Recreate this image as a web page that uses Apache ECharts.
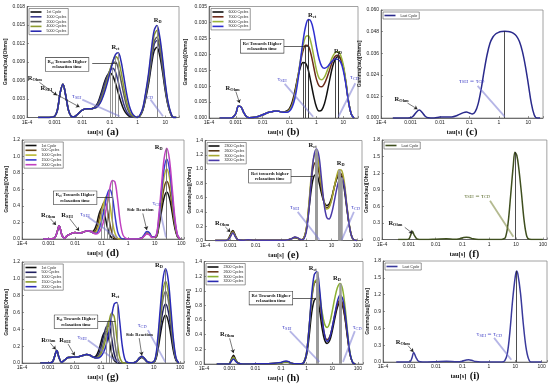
<!DOCTYPE html>
<html><head><meta charset="utf-8">
<script src="https://cdn.jsdelivr.net/npm/echarts/dist/echarts.min.js"></script>
<style>html,body{margin:0;padding:0;background:#fff}#c{width:550px;height:387px}</style>
</head><body><div id="c"></div>
<script>
// ---------------- DATA (tau given as log10 of seconds) ----------------
const xTickLabels = ['1E-4','0.001','0.01','0.1','1','10','100'];
const yName = 'Gamma(tau)[Ohms]';

// (a)
const legA = ['1st Cycle','1000 Cycles','2000 Cycles','4000 Cycles','5000 Cycles'];
const logTauA = [-3.6,-3.2,-3.0,-2.9,-2.8,-2.7,-2.6,-2.5,-2.4,-2.3,-2.2,-2.0,-1.8,-1.7,
  -1.6,-1.5,-1.4,-1.3,-1.2,-1.1,-1.0,-0.9,-0.8,-0.7,-0.6,-0.5,-0.4,-0.3,-0.2,-0.1,0.0,
  0.1,0.2,0.3,0.4,0.5,0.6,0.7,0.8,0.9,1.0,1.1,1.2,1.3,1.4];
const headA = [0,0,0.0002,0.0012,0.0040,0.0054,0.0036,0.0012,0.0002,0.0001,0.0004,0.0012,0.0014,0.0014];
const gA1 = headA.concat([0.0015,0.0019,0.0028,0.0042,0.0057,0.0068,0.0072,0.0068,0.0056,0.0040,0.0025,0.0013,0.0006,0.0002,0.0001,0,0,
  0.0003,0.0013,0.0032,0.0055,0.0084,0.0108,0.0114,0.0101,0.0075,0.0044,0.0020,0.0006,0,0]);
const gA2 = headA.concat([0.0015,0.0018,0.0026,0.0038,0.0053,0.0066,0.0076,0.0080,0.0074,0.0058,0.0039,0.0022,0.0010,0.0004,0.0001,0,0,
  0.0004,0.0014,0.0035,0.0060,0.0092,0.0118,0.0125,0.0111,0.0082,0.0048,0.0021,0.0006,0,0]);
const gA3 = headA.concat([0.0015,0.0017,0.0023,0.0033,0.0047,0.0062,0.0077,0.0088,0.0090,0.0080,0.0060,0.0038,0.0019,0.0008,0.0003,0.0001,0,
  0.0004,0.0014,0.0037,0.0063,0.0096,0.0123,0.0130,0.0115,0.0085,0.0050,0.0022,0.0007,0,0]);
const gA4 = headA.concat([0.0015,0.0016,0.0021,0.0030,0.0043,0.0059,0.0076,0.0091,0.0099,0.0094,0.0075,0.0050,0.0027,0.0011,0.0004,0.0001,0,
  0.0004,0.0016,0.0040,0.0068,0.0104,0.0133,0.0141,0.0125,0.0092,0.0054,0.0024,0.0007,0,0]);
const gA5 = headA.concat([0.0015,0.0016,0.0020,0.0028,0.0040,0.0055,0.0072,0.0089,0.0102,0.0105,0.0092,0.0067,0.0040,0.0019,0.0007,0.0002,0,
  0.0005,0.0017,0.0042,0.0072,0.0110,0.0141,0.0149,0.0132,0.0098,0.0057,0.0026,0.0008,0,0]);

// (b)
const legB = ['6000 Cycles','7000 Cycles','8000 Cycles','9000 Cycles'];
const logTauB = [-3.6,-3.2,-3.1,-3.0,-2.9,-2.8,-2.7,-2.6,-2.5,-2.3,-2.0,-1.8,-1.6,-1.5,-1.4,-1.3,
  -1.2,-1.1,-1.0,-0.9,-0.8,-0.7,-0.6,-0.5,-0.4,-0.3,-0.2,-0.1,0.0,0.1,0.2,0.3,0.4,0.5,0.6,0.7,0.8,0.9,1.0,1.1,1.2,1.3,1.4];
const headB = [0,0,0.0003,0.0014,0.0038,0.0034,0.0016,0.0004,0.0001,0.0002,0.0010,0.0017,0.0021,0.0022,0.0021,0.0019];
const gB1 = headB.concat([0.0019,0.0022,0.0030,0.0050,0.0085,0.0125,0.0158,0.0174,0.0172,0.0150,0.0110,0.0068,0.0035,0.0022,0.0025,0.0045,0.0080,0.0122,0.0160,0.0184,0.0192,0.0186,0.0160,0.0110,0.0050,0.0012,0]);
const gB2 = headB.concat([0.0018,0.0020,0.0027,0.0045,0.0078,0.0125,0.0172,0.0210,0.0228,0.0226,0.0200,0.0160,0.0122,0.0101,0.0098,0.0108,0.0128,0.0153,0.0178,0.0194,0.0197,0.0188,0.0160,0.0110,0.0050,0.0012,0]);
const gB3 = headB.concat([0.0018,0.0019,0.0025,0.0040,0.0072,0.0122,0.0178,0.0225,0.0255,0.0258,0.0236,0.0195,0.0152,0.0125,0.0120,0.0128,0.0148,0.0170,0.0192,0.0205,0.0208,0.0198,0.0168,0.0115,0.0052,0.0012,0]);
const gB4 = headB.concat([0.0018,0.0018,0.0022,0.0035,0.0062,0.0110,0.0175,0.0240,0.0288,0.0309,0.0303,0.0272,0.0225,0.0185,0.0162,0.0156,0.0160,0.0170,0.0180,0.0185,0.0184,0.0176,0.0150,0.0105,0.0048,0.0012,0]);

// (c)
const legC = ['Last Cycle'];
const logTauC = [-3.6,-3.2,-3.0,-2.9,-2.8,-2.7,-2.6,-2.5,-2.4,-2.2,-2.0,-1.8,-1.6,-1.4,-1.2,-1.1,-1.0,-0.9,-0.8,-0.7,-0.6,-0.5,-0.4,-0.3,-0.2,-0.1,0.0,0.1,0.2,0.3,0.4,0.5,0.6,0.7,0.8,0.9,1.0,1.1,1.2,1.3,1.4];
const gC1 = [0,0,0.0001,0.0012,0.0032,0.0044,0.0030,0.0010,0.0001,0,0.0005,0.0006,0.0006,0.0015,0.0030,0.0033,0.0028,0.0022,0.0035,0.0080,
  0.0160,0.0260,0.0350,0.0415,0.0450,0.0468,0.0476,0.0480,0.0482,0.0481,0.0478,0.0470,0.0455,0.0425,0.0370,0.0290,0.0190,0.0085,0.0018,0,0];

// (d)
const legD = ['1st Cycle','500 Cycles','1000 Cycles','1500 Cycles','2000 Cycles'];
const logTauD = [-3.2,-3.0,-2.8,-2.7,-2.6,-2.5,-2.4,-2.3,-2.15,-2.0,-1.85,-1.7,-1.55,
  -1.4,-1.3,-1.2,-1.1,-1.0,-0.9,-0.8,-0.7,-0.6,-0.5,-0.4,-0.3,-0.2,-0.1,0.0,
  0.3,0.5,0.6,0.7,0.8,0.9, 1.05,1.15,1.25,1.35,1.45,1.55,1.65,1.75,1.85,1.95];
const headD = [0,0,0.005,0.06,0.16,0.05,0.01,0.04,0.065,0.078,0.07,0.082,0.10];
const gD1 = headD.concat([0.09,0.10,0.17,0.30,0.37,0.31,0.16,0.05,0.01,0,0,0,0,0,0, 0,0.01,0.04,0.07,0.06,0.02, 0.023,0.14,0.33,0.50,0.57,0.50,0.33,0.14,0.028,0]);
const gD2 = headD.concat([0.09,0.08,0.12,0.24,0.38,0.45,0.38,0.20,0.06,0.01,0,0,0,0,0, 0,0.01,0.045,0.08,0.07,0.025, 0.028,0.17,0.41,0.62,0.70,0.62,0.41,0.17,0.035,0]);
const gD3 = headD.concat([0.09,0.07,0.09,0.17,0.31,0.46,0.52,0.43,0.22,0.07,0.01,0,0,0,0, 0,0.01,0.04,0.075,0.065,0.022, 0.034,0.21,0.49,0.75,0.85,0.75,0.49,0.21,0.042,0]);
const gD4 = headD.concat([0.09,0.07,0.07,0.12,0.22,0.37,0.53,0.60,0.52,0.29,0.09,0.02,0,0,0, 0,0.012,0.05,0.09,0.075,0.025, 0.039,0.24,0.56,0.85,0.97,0.85,0.56,0.24,0.048,0]);
const gD5 = headD.concat([0.09,0.07,0.06,0.08,0.14,0.25,0.42,0.60,0.71,0.69,0.48,0.20,0.05,0.01,0, 0,0.008,0.035,0.06,0.05,0.018, 0.044,0.28,0.64,0.97,1.10,0.97,0.64,0.28,0.055,0]);

// (e)
const legE = ['2300 Cycles','2600 Cycles','3000 Cycles','3200 Cycles'];
const logTauE = [-3.6,-3.2,-3.1,-3.0,-2.9,-2.8,-2.7,-2.5,-2.3,-2.1,-1.5,-1.0,-0.7,-0.55,-0.45,-0.35,-0.2,-0.1,0.0,0.1,0.2,0.3,0.4,0.5,0.6,0.7,0.8,0.9,1.0,1.1,1.2,1.3,1.4,1.5,1.6,1.7,1.8,1.9,2.0];
const gE1 = [0,0,0.01,0.08,0.14,0.07,0.01,0.003,0.01,0.005,0.003,0.004,0.012,0.03,0.04,0.03,0.01,0.03,0.15,0.42,0.72,0.90,0.92,0.82,0.66,0.54,0.49,0.51,0.60,0.74,0.86,0.92,0.88,0.72,0.45,0.20,0.05,0.005,0];
const gE2 = [0,0,0.01,0.07,0.13,0.06,0.01,0.003,0.01,0.005,0.003,0.004,0.012,0.03,0.045,0.035,0.01,0.03,0.16,0.48,0.85,1.06,1.10,0.95,0.72,0.54,0.46,0.48,0.58,0.74,0.88,0.95,0.92,0.76,0.47,0.21,0.05,0.005,0];
const gE3 = [0,0,0.008,0.06,0.12,0.06,0.01,0.003,0.01,0.005,0.003,0.004,0.012,0.03,0.045,0.035,0.01,0.03,0.16,0.50,0.92,1.17,1.22,1.05,0.77,0.55,0.44,0.46,0.57,0.74,0.90,0.99,0.98,0.82,0.50,0.22,0.05,0.005,0];
const gE4 = [0,0,0.007,0.05,0.11,0.05,0.01,0.003,0.01,0.005,0.003,0.004,0.012,0.03,0.05,0.04,0.01,0.02,0.12,0.42,0.86,1.18,1.28,1.18,0.86,0.52,0.33,0.30,0.38,0.54,0.72,0.85,0.88,0.76,0.48,0.21,0.05,0.005,0];

// (f)
const legF = ['Last Cycle'];
const logTauF = [-3.4,-3.1,-3.0,-2.93,-2.87,-2.8,-2.7,-2.6,-2.4,-2.0,-1.6,-1.3,-1.1,-0.95,-0.85,-0.75,-0.6,-0.4,0.0,0.4,0.5,0.6,0.7,0.8,0.9,0.96,1.03,1.1,1.2,1.3,1.4,1.5,1.7,2.0];
const gF1 = [0,0,0.01,0.08,0.15,0.08,0.01,0,0,0.005,0.012,0.005,0.015,0.035,0.042,0.035,0.012,0,0,0,0.005,0.03,0.28,0.80,1.35,1.58,1.52,1.30,0.85,0.35,0.06,0.005,0,0];

// (g)
const legG = ['1st Cycle','500 Cycles','1000 Cycles','1500 Cycles','2000 Cycles'];
const logTauG = [-3.3,-3.0,-2.85,-2.77,-2.68,-2.6,-2.5,-2.4,-2.25,-2.0,-1.85,-1.7,-1.55,-1.4,
  -1.3,-1.2,-1.1,-1.0,-0.9,-0.8,-0.7,-0.6,-0.5,-0.4,-0.3,-0.2,-0.1,0.0,
  0.2,0.35,0.45,0.55,0.65,0.75,0.9, 1.05,1.15,1.25,1.35,1.45,1.55,1.65,1.75,1.85,1.95];
const headG = [0,0,0.01,0.07,0.15,0.07,0.01,0.03,0.065,0.07,0.075,0.09,0.10,0.09];
const gG1 = headG.concat([0.07,0.08,0.14,0.25,0.35,0.37,0.28,0.12,0.03,0.005,0,0,0,0, 0,0.02,0.05,0.065,0.045,0.015,0.002, 0.023,0.14,0.33,0.50,0.57,0.50,0.33,0.14,0.028,0]);
const gG2 = headG.concat([0.07,0.07,0.10,0.19,0.32,0.43,0.44,0.30,0.11,0.02,0,0,0,0, 0,0.02,0.055,0.07,0.05,0.015,0.002, 0.028,0.17,0.41,0.62,0.70,0.62,0.41,0.17,0.035,0]);
const gG3 = headG.concat([0.07,0.06,0.08,0.14,0.25,0.40,0.50,0.50,0.30,0.09,0.01,0,0,0, 0,0.02,0.06,0.075,0.05,0.015,0.002, 0.034,0.21,0.49,0.75,0.85,0.75,0.49,0.21,0.042,0]);
const gG4 = headG.concat([0.07,0.06,0.07,0.11,0.19,0.32,0.48,0.59,0.55,0.30,0.08,0.01,0,0, 0,0.02,0.06,0.08,0.055,0.017,0.002, 0.039,0.24,0.56,0.85,0.97,0.85,0.56,0.24,0.048,0]);
const gG5 = headG.concat([0.07,0.06,0.06,0.08,0.13,0.22,0.37,0.55,0.70,0.72,0.52,0.22,0.05,0.005, 0,0.02,0.06,0.08,0.055,0.017,0.002, 0.045,0.28,0.65,0.99,1.12,0.99,0.65,0.28,0.056,0]);

// (h)
const legH = ['2300 Cycles','2600 Cycles','3000 Cycles','3200 Cycles'];
const logTauH = [-3.5,-3.1,-3.0,-2.95,-2.85,-2.75,-2.65,-2.5,-2.0,-1.5,-1.0,-0.9,-0.8,-0.7,-0.6,-0.4,-0.2,-0.1,0.0,0.1,0.2,0.3,0.4,0.5,0.6,0.7,0.8,0.9,1.0,1.1,1.2,1.3,1.4,1.5,1.6,1.7,1.8,1.9];
const gH1 = [0,0,0.01,0.05,0.12,0.05,0.01,0,0.002,0.003,0.015,0.025,0.03,0.025,0.01,0.002,0.003,0.02,0.12,0.38,0.70,0.87,0.90,0.75,0.50,0.33,0.28,0.32,0.45,0.62,0.77,0.84,0.80,0.62,0.35,0.12,0.02,0];
const gH2 = [0,0,0.01,0.04,0.10,0.04,0.01,0,0.002,0.003,0.015,0.025,0.03,0.025,0.01,0.002,0.003,0.03,0.16,0.50,0.88,1.10,1.13,0.94,0.62,0.40,0.33,0.37,0.50,0.67,0.81,0.87,0.83,0.64,0.36,0.12,0.02,0];
const gH3 = [0,0,0.008,0.04,0.09,0.04,0.008,0,0.002,0.003,0.015,0.025,0.03,0.025,0.01,0.002,0.003,0.03,0.16,0.50,0.90,1.12,1.15,0.98,0.72,0.55,0.50,0.56,0.72,0.90,1.04,1.10,1.03,0.78,0.43,0.14,0.02,0];
const gH4 = [0,0,0.006,0.03,0.07,0.03,0.006,0,0.002,0.004,0.02,0.035,0.04,0.032,0.012,0.002,0.003,0.03,0.15,0.50,0.95,1.22,1.26,1.05,0.66,0.40,0.31,0.36,0.50,0.68,0.85,0.94,0.90,0.70,0.40,0.13,0.02,0];

// (i)
const legI = ['Last Cycle'];
const logTauI = [-3.5,-3.0,-2.95,-2.9,-2.84,-2.75,-2.65,-2.5,-2.0,-1.6,-1.2,-1.0,-0.85,-0.76,-0.65,-0.5,-0.3,0.5,0.6,0.7,0.8,0.9,1.0,1.05,1.1,1.2,1.3,1.4,1.5,1.6,2.0];
const gI1 = [0,0,0.02,0.08,0.17,0.08,0.01,0,0.005,0.012,0.005,0.015,0.035,0.04,0.03,0.008,0,0,0.02,0.15,0.55,1.10,1.52,1.62,1.56,1.22,0.70,0.28,0.06,0,0];

// ---------------- LAYOUT / STYLE ----------------
const SANS = "'Liberation Sans', Arial, sans-serif";
const SERIF = "'Liberation Serif','DejaVu Serif',serif";
const TAUC = '#4646c8';
const P = l => Math.pow(10, l);
const R = s => `{b|R}{s|${s}}`;
const T = s => `{tb|τ}{ts|${s}}`;
const TEQ = '{tb|τ}{ts|SEI}{tb| = τ}{ts|CD}';
const TEQO = '{ob|τ}{os|SEI}{ob| = τ}{os|CD}';
const BOX = '{c|R}{cs|ct}{c| Towards Higher}\n{c|relaxation time}';
const BOXE = '{c|Rct towards higher}\n{c|relaxation time}';
const SIDE = '{c|Side Reaction}';
const TLINE = {color:'rgba(120,120,210,0.55)', width:1.8};
const TLINEO = {color:'rgba(130,140,70,0.6)', width:1.8};

const panels = [
 {k:'a', box:[27,6.5,152,111], xmax:1.5, ymax:0.018, yint:0.003, dec:3, ygap:17,
  tau:logTauA, ys:[gA1,gA2,gA3,gA4,gA5], names:legA, colors:['#111111','#3b3b8c','#5a5a5a','#8c9a2e','#2a2ab0'],
  peaks:[{lo:-1.2,hi:-0.5,c:[0,1,2,3,4],color:'#8a8a8a',w:0.9},{lo:0.4,hi:1.0,c:[4],color:'#8a8a8a',w:1}],
  labels:[[-3.72,0.0063,R('Ohm')],[-3.3,0.0047,R('SEI')],[-2.55,0.0086,BOX,1],[-0.8,0.0114,R('ct')],[0.73,0.0157,R('D')],[-2.2,0.0035,T('SEI')],[0.4,0.0035,T('CD')]],
  arrows:[[[-3.55,0.0057],[-2.92,0.0036]],[[-3.12,0.0042],[-2.1,0.0017]]],
  plain:[[[-1.64,0.0088],[-0.75,0.0088]]],
  tlines:[[[-2.0,0.0029],[-0.65,0.0002]],[[0.47,0.0029],[0.92,0.0002]]]},
 {k:'b', box:[209,6.5,149,111.5], xmax:1.55, ymax:0.035, yint:0.005, dec:3, ygap:21,
  tau:logTauB, ys:[gB1,gB2,gB3,gB4], names:legB, colors:['#111111','#6b2a1a','#9ab33a','#2f2fd0'],
  peaks:[{lo:-0.6,hi:-0.1,c:[0,1,2,3],color:'#333',w:0.9},{lo:0.6,hi:1.0,c:[0,1,2,3],color:'#333',w:0.9}],
  labels:[[-3.12,0.0093,R('Ohm')],[-2.02,0.0225,BOX,1],[-0.16,0.0323,R('ct')],[0.8,0.0209,R('D')],[-1.28,0.0121,T('SEI')],[1.42,0.0128,T('CD')]],
  arrows:[[[-3.0,0.0083],[-2.86,0.0047]]],
  plain:[[[-1.36,0.0225],[-0.3,0.0225]]],
  tlines:[[[-1.18,0.0107],[-0.12,0.0004]],[[1.45,0.0109],[0.82,0.0004]]]},
 {k:'c', box:[381,10,162,108], xmax:1.5, ymax:0.060, yint:0.012, dec:3, ygap:14,
  tau:logTauC, ys:[gC1], names:legC, colors:['#2a2a8c'],
  peaks:[{lo:-0.5,hi:1,c:[0],color:'#222',w:0.8}],
  labels:[[-3.3,0.0103,R('Ohm')],[-0.92,0.0207,TEQ]],
  arrows:[[[-3.1,0.0083],[-2.76,0.0049]]], plain:[],
  tlines:[[[-0.72,0.0178],[0.2,0.0008]]]},
 {k:'d', box:[22,140,162,99], xmax:2.1, ymax:1.2, yint:0.2, dec:1, ygap:8,
  tau:logTauD, ys:[gD1,gD2,gD3,gD4,gD5], names:legD, colors:['#111111','#6b4a1a','#b8b830','#3a3ad0','#c040c0'],
  peaks:[{lo:-1.1,hi:-0.4,c:[0,1,2,3,4],color:'#8a8a8a',w:0.9},{lo:1.3,hi:1.6,c:[4],color:'#7a7a7a',w:1}],
  labels:[[-3.02,0.285,R('Ohm')],[-2.3,0.285,R('SEI')],[-2.0,0.50,BOX,1],[-1.63,0.30,T('SEI')],[0.45,0.35,SIDE],[1.08,0.43,T('CD')],[1.15,1.11,R('D')]],
  arrows:[[[-2.93,0.245],[-2.72,0.17]],[[-2.2,0.245],[-1.85,0.10]],[[0.55,0.31],[0.70,0.11]]],
  plain:[[[-1.26,0.51],[-0.6,0.51]]],
  tlines:[[[-1.52,0.27],[-0.4,0.01]],[[1.18,0.37],[1.42,0.02]]]},
 {k:'e', box:[205,140.5,157,100], xmax:2.2, ymax:1.4, yint:0.2, dec:1, ygap:12,
  tau:logTauE, ys:[gE1,gE2,gE3,gE4], names:legE, colors:['#111111','#5a3a1a','#a8a830','#4a3aa8'],
  peaks:[{lo:0.2,hi:0.5,c:[0,1,2,3],color:'#9a9a9a',w:2.5},{lo:1.2,hi:1.5,c:[0,1,2,3],color:'#9a9a9a',w:2.5}],
  labels:[[-3.33,0.235,R('Ohm')],[-1.44,0.90,BOXE,1],[0.25,1.33,R('ct')],[1.36,1.08,R('D')],[-0.46,0.46,T('SEI')],[1.95,0.46,T('CD')]],
  arrows:[[[-3.2,0.19],[-3.0,0.12]]],
  plain:[[[-0.77,0.90],[0.3,0.90]]],
  tlines:[[[-0.34,0.40],[0.52,0.01]],[[1.88,0.40],[1.4,0.01]]]},
 {k:'f', box:[382,140,165,99.5], xmax:2.15, ymax:1.8, yint:0.3, dec:1, ygap:9,
  tau:logTauF, ys:[gF1], names:legF, colors:['#3f4f1f'],
  peaks:[{lo:0.5,hi:1.5,c:[0],color:'#222',w:0.8}],
  labels:[[-3.5,0.29,R('Ohm')],[-0.45,0.79,TEQO]],
  arrows:[[[-3.15,0.22],[-2.86,0.11]]], plain:[],
  tlines:[[[0.03,0.70],[0.9,0.05]]], tstyle:TLINEO},
 {k:'g', box:[22,262,162,101], xmax:2.15, ymax:1.2, yint:0.2, dec:1, ygap:8,
  tau:logTauG, ys:[gG1,gG2,gG3,gG4,gG5], names:legG, colors:['#111111','#1f1f5f','#707070','#8a9a2a','#2a2ab8'],
  peaks:[{lo:-0.9,hi:-0.3,c:[0,1,2,3,4],color:'#8a8a8a',w:0.9},{lo:1.3,hi:1.6,c:[4],color:'#7a7a7a',w:1}],
  labels:[[-3.0,0.275,R('Ohm')],[-2.37,0.265,R('SEI')],[-1.95,0.49,BOX,1],[-0.46,0.80,R('ct')],[-1.72,0.31,T('SEI')],[0.45,0.33,SIDE],[0.56,0.45,T('CD')],[1.2,1.16,R('D')]],
  arrows:[[[-2.92,0.235],[-2.72,0.16]],[[-2.25,0.225],[-2.0,0.09]],[[0.45,0.295],[0.55,0.09]]],
  plain:[[[-1.2,0.50],[-0.45,0.50]]],
  tlines:[[[-1.5,0.27],[-0.35,0.01]],[[0.78,0.39],[1.44,0.01]]]},
 {k:'h', box:[204,261.5,159,102.5], xmax:2.2, ymax:1.4, yint:0.2, dec:1, ygap:9,
  tau:logTauH, ys:[gH1,gH2,gH3,gH4], names:legH, colors:['#111111','#6b3a1a','#8ab030','#2a2ab0'],
  peaks:[{lo:0.2,hi:0.5,c:[0,1,2,3],color:'#9a9a9a',w:2.5},{lo:1.2,hi:1.5,c:[0,1,2,3],color:'#9a9a9a',w:2.5}],
  labels:[[-3.1,0.40,R('Ohm')],[-1.39,0.90,BOX,1],[0.24,1.31,R('ct')],[1.18,1.17,R('D')],[-0.77,0.50,T('SEI')],[1.97,0.50,T('CD')]],
  arrows:[[[-3.0,0.35],[-2.85,0.15]]],
  plain:[[[-0.64,0.90],[0.35,0.90]]],
  tlines:[[[-0.65,0.45],[0.5,0.03]],[[1.88,0.45],[1.42,0.03]]]},
 {k:'i', box:[383,261,164,101], xmax:2.2, ymax:1.8, yint:0.3, dec:1, ygap:12,
  tau:logTauI, ys:[gI1], names:legI, colors:['#3a3a9c'],
  peaks:[{lo:0.5,hi:1.5,c:[0],color:'#222',w:0.8}],
  labels:[[-3.25,0.35,R('Ohm')],[0.02,0.50,TEQ]],
  arrows:[[[-3.05,0.29],[-2.85,0.18]]], plain:[],
  tlines:[[[0.2,0.43],[0.85,0.04]]]}
];

const RICH = {
  b:{fontFamily:SERIF,fontWeight:'bold',fontSize:6.5,color:'#111'},
  s:{fontFamily:SERIF,fontWeight:'bold',fontSize:4.3,color:'#111',padding:[3,0,0,0]},
  tb:{fontFamily:SERIF,fontSize:7,color:TAUC},
  ts:{fontFamily:SERIF,fontSize:4.3,color:TAUC,padding:[3,0,0,0]},
  ob:{fontFamily:SERIF,fontSize:7,color:'#5a6a2a'},
  os:{fontFamily:SERIF,fontSize:4.3,color:'#5a6a2a',padding:[3,0,0,0]},
  c:{fontFamily:SERIF,fontWeight:'bold',fontSize:4.6,color:'#111',lineHeight:5.5},
  cs:{fontFamily:SERIF,fontWeight:'bold',fontSize:3.4,color:'#111',padding:[2,0,0,0]}
};

function xlab(v){
  const l = Math.log10(v), e = Math.round(l);
  if (Math.abs(l - e) > 1e-3) return '';
  return xTickLabels[e + 4] || '';
}
const pair = (a, b) => [{coord:[P(a[0]), a[1]]}, {coord:[P(b[0]), b[1]]}];

const option = {animation:false, backgroundColor:'#fff', grid:[], xAxis:[], yAxis:[], legend:[], series:[]};
panels.forEach((p, k) => {
  const [L, Tp, W, H] = p.box;
  option.grid.push({left:L, top:Tp, width:W, height:H, show:true, borderColor:'#8a8a8a', borderWidth:0.8});
  option.xAxis.push({type:'log', logBase:10, gridIndex:k, min:1e-4, max:P(p.xmax), splitNumber:10,
    name:`{t|tau[s]} {p|(${p.k})}`, nameLocation:'middle', nameGap:7,
    nameTextStyle:{rich:{t:{fontFamily:SERIF,fontWeight:'bold',fontSize:6.5,color:'#111'},p:{fontFamily:SERIF,fontWeight:'bold',fontSize:10.5,color:'#111'}}},
    axisLine:{show:true,lineStyle:{color:'#555',width:0.8}},
    axisTick:{show:true,inside:true,length:2,lineStyle:{color:'#555',width:0.6}},
    minorTick:{show:false},
    axisLabel:{fontSize:5,color:'#222',fontFamily:SANS,margin:2.5,formatter:xlab},
    splitLine:{show:false}});
  option.yAxis.push({type:'value', gridIndex:k, min:0, max:p.ymax, interval:p.yint,
    name:yName, nameLocation:'middle', nameGap:p.ygap,
    nameTextStyle:{fontSize:5,fontWeight:'bold',fontFamily:SANS,color:'#222'},
    axisLine:{show:true,lineStyle:{color:'#555',width:0.8}},
    axisTick:{show:true,inside:true,length:2,lineStyle:{color:'#555',width:0.6}},
    axisLabel:{fontSize:5,color:'#222',fontFamily:SANS,margin:2,formatter:v=>v.toFixed(p.dec)},
    splitLine:{show:false}});
  const sname = n => n + '#' + p.k;
  option.legend.push({left:L+2, top:Tp+2, orient:'vertical', icon:'rect', itemWidth:11, itemHeight:1.6, itemGap:0.8,
    padding:[1.5,2,1.5,1.5], borderColor:'#555', borderWidth:0.6, backgroundColor:'#fff', selectedMode:false,
    textStyle:{fontSize:3.6,fontFamily:SANS,color:'#222'}, data:p.names.map(sname), formatter:n=>n.split('#')[0]});
  // peak marker lines (from the curves themselves)
  const vlines = [];
  p.peaks.forEach(pk => pk.c.forEach(ci => {
    const ys = p.ys[ci]; let bi = -1;
    p.tau.forEach((t, i) => { if (t >= pk.lo && t <= pk.hi && (bi < 0 || ys[i] > ys[bi])) bi = i; });
    vlines.push([{coord:[P(p.tau[bi]), 0], lineStyle:{color:pk.color,width:pk.w,type:'solid'}}, {coord:[P(p.tau[bi]), ys[bi]]}]);
  }));
  option.series.push({type:'line', name:'_v'+k, xAxisIndex:k, yAxisIndex:k, data:[], silent:true, z:1,
    markLine:{silent:true, symbol:['none','none'], label:{show:false}, animation:false,
      lineStyle:{type:'solid'}, data:vlines}});
  p.ys.forEach((ys, ci) => {
    option.series.push({type:'line', name:sname(p.names[ci]), xAxisIndex:k, yAxisIndex:k,
      data:p.tau.map((t, i) => [P(t), ys[i]]), smooth:0.35, showSymbol:false, symbol:'none', z:3,
      lineStyle:{color:p.colors[ci], width:1.5}, itemStyle:{color:p.colors[ci]}});
  });
  option.series.push({type:'line', name:'_a'+k, xAxisIndex:k, yAxisIndex:k, data:[], silent:true, z:4,
    markLine:{silent:true, symbol:['none','arrow'], symbolSize:3.5, label:{show:false}, animation:false,
      lineStyle:{color:'#222',width:0.6,type:'solid'}, data:p.arrows.map(a => pair(a[0], a[1]))}});
  option.series.push({type:'line', name:'_p'+k, xAxisIndex:k, yAxisIndex:k, data:[], silent:true, z:4,
    markLine:{silent:true, symbol:['none','none'], label:{show:false}, animation:false,
      lineStyle:{color:'#222',width:0.7,type:'solid'}, data:p.plain.map(a => pair(a[0], a[1]))}});
  option.series.push({type:'line', name:'_t'+k, xAxisIndex:k, yAxisIndex:k, data:[], silent:true, z:2,
    markLine:{silent:true, symbol:['none','none'], label:{show:false}, animation:false,
      lineStyle:Object.assign({type:'solid'}, p.tstyle || TLINE), data:p.tlines.map(a => pair(a[0], a[1]))}});
  option.series.push({type:'line', name:'_l'+k, xAxisIndex:k, yAxisIndex:k, data:[], silent:true, z:6,
    markPoint:{silent:true, animation:false, data:p.labels.map(l => ({coord:[P(l[0]), l[1]], symbol:'rect', symbolSize:1,
      itemStyle:{color:'rgba(0,0,0,0)'},
      label:Object.assign({show:true, position:'inside', formatter:l[2], rich:RICH},
        l[3] ? {backgroundColor:'#fff', borderColor:'#333', borderWidth:0.6, padding:[1,2,1,2]} : {})}))}});
});

const chart = echarts.init(document.getElementById('c'), null, {renderer:'canvas'});
chart.setOption(option);
</script></body></html>
